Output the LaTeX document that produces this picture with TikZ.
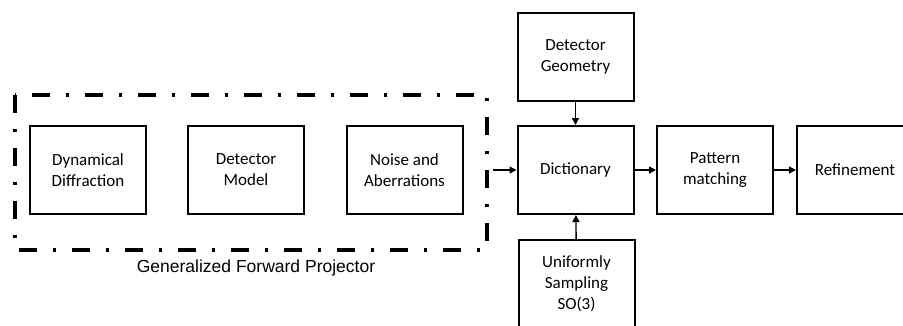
\documentclass[tikz,border=0pt]{standalone}
\usepackage{fontspec}
\setmainfont{Carlito}
\newfontfamily\labelfont{Liberation Sans}
\usetikzlibrary{arrows.meta,positioning}

\begin{document}
\begin{tikzpicture}[%
    >={Triangle[length=7pt,width=7pt]}, % small filled heads
    x=1pt,
    y=-1pt,
    block/.style={draw, line width=2pt, minimum width=116pt, minimum height=88pt,
                  align=center, font={\fontsize{17}{21}\selectfont}, inner sep=2pt},
    link/.style={line width=1.4pt, ->}
    ]

    \useasboundingbox (0,0) rectangle (903,325);

    % forward projector
    \draw[line width=3.8pt, dash pattern=on 18pt off 16pt on 3pt off 16pt]
        (15,95) rectangle (487,250);
    \node (dyn) [block] at (88,170) {Dynamical\\Diffraction};
    \node (detm) [block] at (246,170) {Detector\\Model};
    \node (noise) [block] at (404.5,170) {Noise and\\Aberrations};
    \node (gfp) at (256,268) [font={\labelfont\fontsize{17.5}{20}\selectfont}] {Generalized Forward Projector};
    \coordinate (out) at (493,170);

    % dictionary and matching
    \node (geom) [block] at (575.5,57) {Detector\\Geometry};
    \node (dict) [block] at (575.5,170) {Dictionary};
    \node (pm) [block] at (715,170) {Pattern\\matching};
    \node (ref) [block] at (855,170) {Refinement};
    \node (unif) [block] at (576.5,284) {Uniformly\\Sampling\\SO(3)};

    \draw [link] (out) -- (dict);
    \draw [link] (geom) -- (dict);
    \draw [link] (unif) -- (dict);
    \draw [link] (dict) -- (pm);
    \draw [link] (pm) -- (ref);
\end{tikzpicture}
\end{document}
